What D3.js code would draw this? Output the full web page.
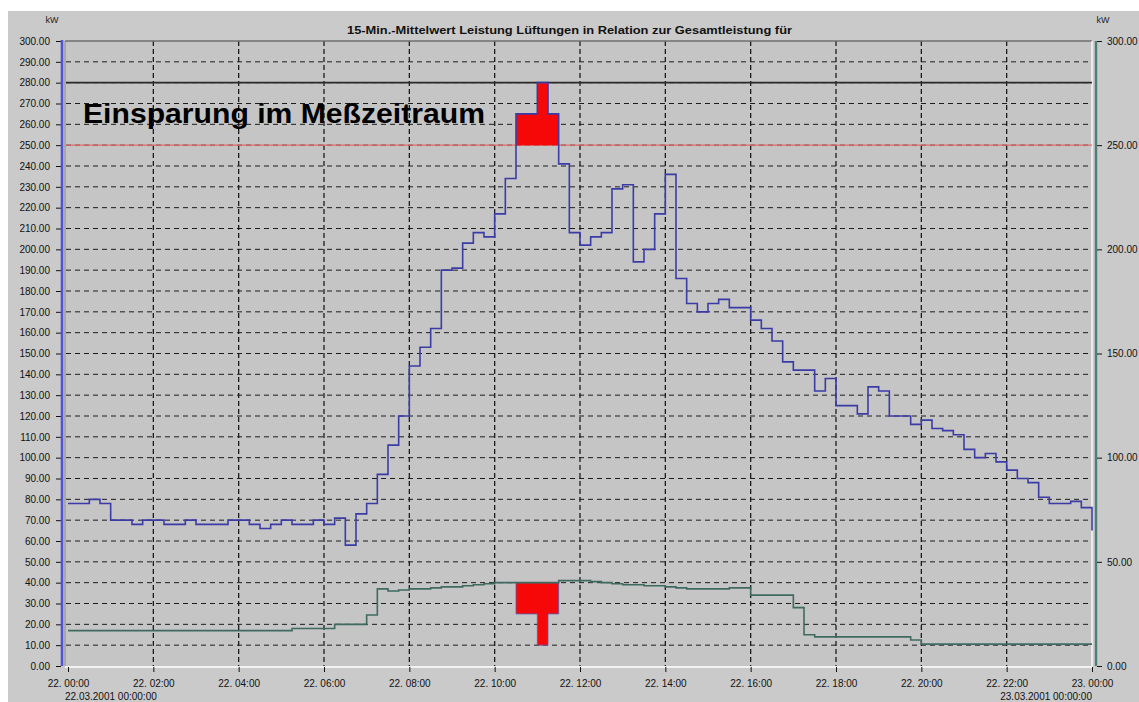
<!DOCTYPE html>
<html>
<head>
<meta charset="utf-8">
<script src="https://cdnjs.cloudflare.com/ajax/libs/d3/7.8.5/d3.min.js"></script>
<style>
  body { margin: 0; background: #ffffff; }
  text { font-family: "Liberation Sans", Arial, sans-serif; }
</style>
</head>
<body>
<div class="container"></div>
<script>
// 15-min mean values, 96 steps (+ end point) over 22.03.2001
let lueftungen = [78, 78, 80, 78, 70, 70, 68, 70, 70, 68, 68, 70,
  68, 68, 68, 70, 70, 68, 66, 68, 70, 68, 68, 70, 68, 71, 58, 73,
  78, 92, 106, 120, 144, 153, 162, 190, 191, 203, 208, 206, 217, 234, 265, 265,
  280, 265, 241, 208, 202, 206, 208, 229, 231, 194, 200, 217, 236, 186, 174, 170,
  174, 176, 172, 172, 166, 162, 156, 146, 142, 142, 132, 138, 125, 125, 121, 134,
  132, 120, 120, 116, 118, 114, 113, 111, 104, 100, 102, 98, 94, 90, 88, 81,
  78, 78, 79, 76, 65];
let gesamt = [17, 17, 17, 17, 17, 17, 17, 17, 17, 17, 17, 17, 17, 17, 17, 17, 17, 17, 17, 17, 17,
  18, 18, 18, 18, 20, 20, 20, 24.5, 37,
  36, 36.5, 37, 37, 37.5, 38, 38, 38.5, 39, 39.5, 40, 40, 40, 40, 40, 40, 41, 41, 41,
  40.5, 40, 39.5, 39, 39, 38.5, 38.5, 38, 37.5, 37, 37, 37, 37, 37.5, 37.5,
  34, 34, 34, 34, 28, 15, 14, 14, 14, 14, 14, 14, 14, 14, 14, 12.5,
  10.5, 10.5, 10.5, 10.5, 10.5, 10.5, 10.5, 10.5, 10.5, 10.5, 10.5, 10.5, 10.5, 10.5, 10.5, 10.5, 10.5];
let timeLabels = ["22. 00:00", "22. 02:00", "22. 04:00", "22. 06:00", "22. 08:00", "22. 10:00",
  "22. 12:00", "22. 14:00", "22. 16:00", "22. 18:00", "22. 20:00", "22. 22:00", "23. 00:00"];
let dateLabels = ["22.03.2001  00:00:00", "23.03.2001  00:00:00"];
let leftTicks = d3.range(0, 301, 10);
let rightTicks = [0, 50, 100, 150, 200, 250, 300];
let grenzwert = 250;
let spitze = 280;
// annotation arrows: levels and step indices
let pfeilOben = [250, 265, 280];
let pfeilUnten = [40, 25, 10];
let pfeilSteps = [42, 44, 45, 46];

let svg = d3.select(".container")
  .append("svg")
  .attr("width", 1139)
  .attr("height", 702);

let x = d3.scaleLinear().domain([0, 96]).range([68, 1092]);
let y = d3.scaleLinear().domain([0, 300]).range([666, 41]);

svg.append("rect")
  .attr("x", 8)
  .attr("y", 11)
  .attr("width", 1131)
  .attr("height", 691)
  .attr("fill", "#cacaca");
svg.append("rect")
  .attr("x", 65)
  .attr("y", y(300))
  .attr("width", x(96) - 65)
  .attr("height", y(0) - y(300))
  .attr("fill", "#c5c5c5");

// grid
let grid = svg.append("g").attr("class", "grid");
grid.selectAll("line.h")
  .data(leftTicks.filter(d => d > 0 && d < 300))
  .enter().append("line")
  .attr("x1", 66)
  .attr("x2", x(96))
  .attr("y1", d => y(d))
  .attr("y2", d => y(d))
  .attr("stroke", "#1c1c1c")
  .attr("stroke-width", 1)
  .attr("stroke-dasharray", "5,4");
grid.selectAll("line.v")
  .data(d3.range(8, 96, 8))
  .enter().append("line")
  .attr("x1", d => x(d))
  .attr("x2", d => x(d))
  .attr("y1", y(300))
  .attr("y2", y(0))
  .attr("stroke", "#1c1c1c")
  .attr("stroke-width", 1.3)
  .attr("stroke-dasharray", "5,3");

// frame
svg.append("line")
  .attr("x1", 65).attr("x2", x(96))
  .attr("y1", y(300)).attr("y2", y(300))
  .attr("stroke", "#6e6e6e").attr("stroke-width", 1.5);
svg.append("line")
  .attr("x1", 65).attr("x2", x(96))
  .attr("y1", y(0) + 1).attr("y2", y(0) + 1)
  .attr("stroke", "#ffffff").attr("stroke-width", 1.5);
svg.append("line")
  .attr("x1", x(96)).attr("x2", x(96))
  .attr("y1", y(300)).attr("y2", y(0) + 1)
  .attr("stroke", "#f4f4f4").attr("stroke-width", 1.5);
svg.append("line")
  .attr("x1", 65).attr("x2", 65)
  .attr("y1", y(300)).attr("y2", y(0))
  .attr("stroke", "#8a8a8a").attr("stroke-width", 1);

// reference lines
svg.append("line")
  .attr("x1", 66).attr("x2", x(96))
  .attr("y1", y(spitze)).attr("y2", y(spitze))
  .attr("stroke", "#2a2a2a").attr("stroke-width", 1.6);
svg.append("line")
  .attr("x1", 66).attr("x2", x(96))
  .attr("y1", y(grenzwert)).attr("y2", y(grenzwert))
  .attr("stroke", "#e46a6a").attr("stroke-width", 1.4);

// red arrows
function pfeil(levels) {
  let s = pfeilSteps;
  return [[s[0], levels[0]], [s[0], levels[1]], [s[1], levels[1]], [s[1], levels[2]],
    [s[2], levels[2]], [s[2], levels[1]], [s[3], levels[1]], [s[3], levels[0]]]
    .map(p => [x(p[0]), y(p[1])].join(",")).join(" ");
}
svg.append("polygon")
  .attr("points", pfeil(pfeilOben))
  .attr("fill", "#f60808");
svg.append("polygon")
  .attr("points", pfeil(pfeilUnten))
  .attr("fill", "#f60808")
  .attr("stroke", "#5a5ab0")
  .attr("stroke-width", 0.8);

let line = d3.line()
  .x((d, i) => x(i))
  .y(d => y(d))
  .curve(d3.curveStepAfter);

svg.append("path")
  .datum(gesamt)
  .attr("d", line)
  .attr("fill", "none")
  .attr("stroke", "#3f6a60")
  .attr("stroke-width", 1.6);
svg.append("path")
  .datum(lueftungen)
  .attr("d", line)
  .attr("fill", "none")
  .attr("stroke", "#3b3ba8")
  .attr("stroke-width", 1.6);

// left axis
let leftAxis = svg.append("g")
  .attr("transform", "translate(61,0)")
  .call(d3.axisLeft(y).tickValues(leftTicks).tickFormat(d3.format(".2f")).tickSize(5).tickPadding(6));
leftAxis.select(".domain").remove();
leftAxis.selectAll("text").attr("font-size", 10).attr("fill", "#111");
leftAxis.selectAll("line").attr("stroke", "#111");
svg.append("line")
  .attr("x1", 62).attr("x2", 62)
  .attr("y1", y(300) - 1).attr("y2", y(0))
  .attr("stroke", "#5252d6").attr("stroke-width", 2.6);

// right axis
let rightAxis = svg.append("g")
  .attr("transform", "translate(1097,0)")
  .call(d3.axisRight(y).tickValues(rightTicks).tickFormat(d3.format(".2f")).tickSize(5).tickPadding(5));
rightAxis.select(".domain").remove();
rightAxis.selectAll("text").attr("font-size", 10).attr("fill", "#111");
rightAxis.selectAll("line").attr("stroke", "#111");
svg.append("line")
  .attr("x1", 1096).attr("x2", 1096)
  .attr("y1", y(300)).attr("y2", y(0))
  .attr("stroke", "#4f7f74").attr("stroke-width", 2.4);

// bottom axis
let bottomAxis = svg.append("g")
  .attr("transform", `translate(0,${y(0) + 1})`)
  .call(d3.axisBottom(x).tickValues(d3.range(0, 97, 8)).tickFormat((d, i) => timeLabels[i]).tickSize(5).tickPadding(8));
bottomAxis.select(".domain").remove();
bottomAxis.selectAll("text").attr("font-size", 10).attr("fill", "#111");
bottomAxis.selectAll("line").attr("stroke", "#111");

svg.append("text")
  .attr("x", x(0) - 3)
  .attr("y", 700)
  .attr("font-size", 10)
  .attr("fill", "#111")
  .text(dateLabels[0]);
svg.append("text")
  .attr("x", x(96))
  .attr("y", 700)
  .attr("font-size", 10)
  .attr("text-anchor", "end")
  .attr("fill", "#111")
  .text(dateLabels[1]);

// units and titles
svg.append("text")
  .attr("x", 52).attr("y", 23)
  .attr("font-size", 9)
  .attr("text-anchor", "middle")
  .attr("fill", "#222")
  .text("kW");
svg.append("text")
  .attr("x", 1103).attr("y", 23)
  .attr("font-size", 9)
  .attr("text-anchor", "middle")
  .attr("fill", "#222")
  .text("kW");
svg.append("text")
  .attr("x", 347).attr("y", 34)
  .attr("font-size", 11)
  .attr("font-weight", "bold")
  .attr("fill", "#111")
  .attr("textLength", 445)
  .attr("lengthAdjust", "spacingAndGlyphs")
  .text("15-Min.-Mittelwert Leistung Lüftungen in Relation zur Gesamtleistung für");
svg.append("text")
  .attr("x", 83).attr("y", 123)
  .attr("font-size", 28)
  .attr("font-weight", "bold")
  .attr("fill", "#000")
  .attr("textLength", 402)
  .attr("lengthAdjust", "spacingAndGlyphs")
  .text("Einsparung im Meßzeitraum");
</script>
</body>
</html>
